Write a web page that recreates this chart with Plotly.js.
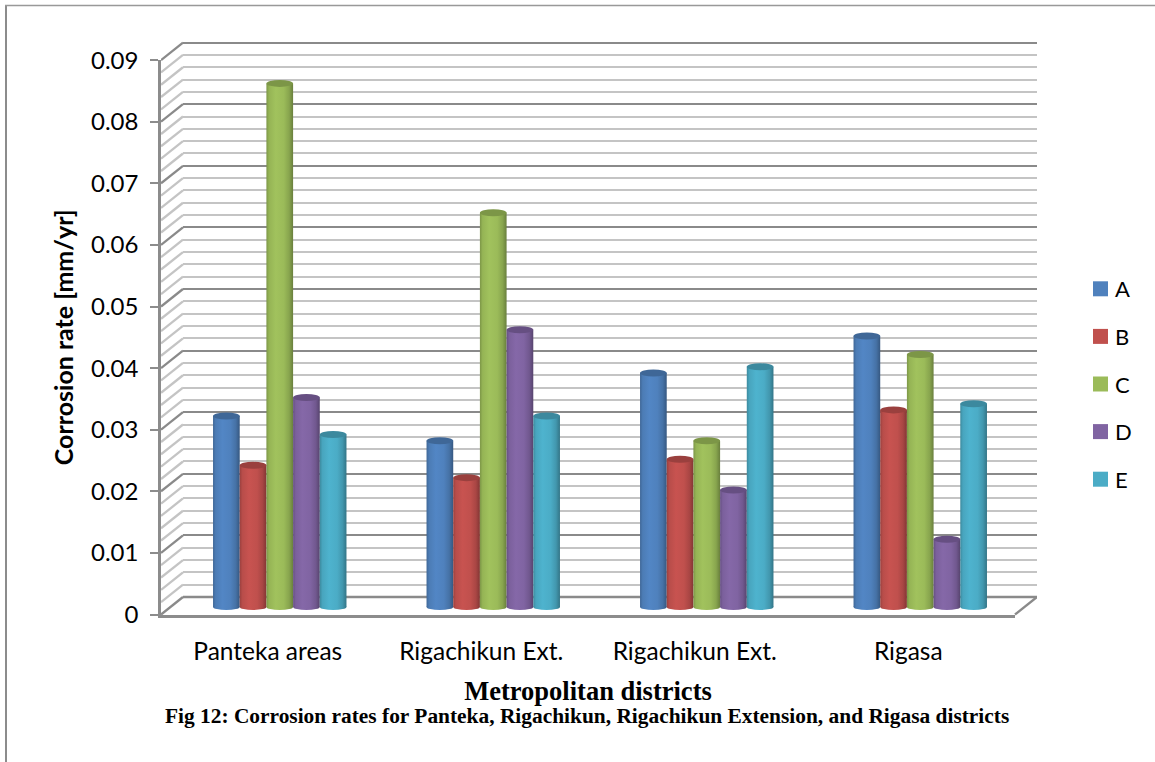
<!DOCTYPE html>
<html>
<head>
<meta charset="utf-8">
<title>Corrosion rates by metropolitan district</title>
<script src="https://cdn.plot.ly/plotly-3.0.1.min.js"></script>
<style>html,body{margin:0;padding:0;background:#fff}#chart{width:1155px;height:762px}</style>
</head>
<body>
<div id="chart"></div>
<script>
// Corrosion rate per district, one list per sample series
const districts = ['Panteka areas', 'Rigachikun Ext.', 'Rigachikun Ext.', 'Rigasa'];
const seriesNames = ['A', 'B', 'C', 'D', 'E'];
const seriesA = [0.031, 0.027, 0.038, 0.044];
const seriesB = [0.023, 0.021, 0.024, 0.032];
const seriesC = [0.085, 0.064, 0.027, 0.041];
const seriesD = [0.034, 0.045, 0.019, 0.011];
const seriesE = [0.028, 0.031, 0.039, 0.033];
const allSeries = [seriesA, seriesB, seriesC, seriesD, seriesE];

const faceColors = ['#4f81bd', '#c0504d', '#9bbb59', '#8064a2', '#4bacc6'];
const capColors = ['#3f6797', '#9a403e', '#7c9647', '#664f82', '#3c899e'];
const yTickVals = [0, 0.01, 0.02, 0.03, 0.04, 0.05, 0.06, 0.07, 0.08, 0.09];
const yTickText = ['0', '0.01', '0.02', '0.03', '0.04', '0.05', '0.06', '0.07', '0.08', '0.09'];
const minorStep = 0.002;

const W = 1155, H = 762;
const GRID_MINOR = '#c4c4c4', GRID_MAJOR = '#8a8a8a', AXIS_GREY = '#8c8c8c';
const GRID_WIDTH = 2.3;
const PX_PER_UNIT = 6160;          // vertical pixels per mm/yr
const FRONT_ZERO = 614.5, BACK_ZERO = 597, BAR_ZERO = 607;
const FRONT_L = 161, FRONT_R = 1015, DEPTH_X = 22, BAR_L = 173;
const BAR_SHARE = 0.125, GROUP_SHARE = BAR_SHARE * seriesNames.length;
const CAP_RY = 3.5, FOOT_RY = 3;

const px = x => x / W;
const py = y => 1 - y / H;
// Value range of a vertical axis whose zero sits at zeroY and which spans bottomY..topY
const yRange = (zeroY, bottomY, topY) => [(zeroY - bottomY) / PX_PER_UNIT, (zeroY - topY) / PX_PER_UNIT];

// Floor and side wall diagonals, one segment per grid line
const depthDy = (FRONT_ZERO - BACK_ZERO) / PX_PER_UNIT;
function diagonals(isMajor) {
  const xs = [], ys = [];
  for (let k = 0; k <= 45; k++) {
    if ((k % 5 === 0) !== isMajor) continue;
    const v = k * minorStep;
    xs.push(0, DEPTH_X, null);
    ys.push(v, v + depthDy, null);
  }
  if (isMajor) {
    xs.push(FRONT_R - FRONT_L, FRONT_R - FRONT_L + DEPTH_X, null);
    ys.push(0, depthDy, null);
  }
  return {x: xs, y: ys};
}

const traces = [];
// Keeps the back wall axes alive in the layout
traces.push({type: 'scatter', mode: 'lines', x: [0, 1], y: [0, 0], xaxis: 'x2', yaxis: 'y2',
  line: {color: GRID_MAJOR, width: GRID_WIDTH}, showlegend: false, hoverinfo: 'skip'});
traces.push({type: 'scatter', mode: 'lines', x: [0, 1], y: [0, 0], xaxis: 'x', yaxis: 'y',
  line: {color: AXIS_GREY, width: 0}, showlegend: false, hoverinfo: 'skip'});
[false, true].forEach(major => {
  const seg = diagonals(major);
  traces.push({type: 'scatter', mode: 'lines', x: seg.x, y: seg.y, xaxis: 'x3', yaxis: 'y3',
    line: {color: major ? GRID_MAJOR : GRID_MINOR, width: GRID_WIDTH}, showlegend: false, hoverinfo: 'skip'});
});
const districtIdx = districts.map((_, i) => i);
allSeries.forEach((vals, s) => {
  traces.push({type: 'bar', name: seriesNames[s], x: districtIdx, y: vals, xaxis: 'x4', yaxis: 'y4',
    legendgroup: seriesNames[s], marker: {color: faceColors[s], line: {width: 0}}, hovertemplate: '%{y}<extra>' + seriesNames[s] + '</extra>'});
});

// Elliptical caps and feet of the cylinders, placed from the same values as the bars
const shapes = [];
const footOwner = {};
allSeries.forEach((vals, s) => {
  vals.forEach((v, i) => {
    const left = i - GROUP_SHARE / 2 + s * BAR_SHARE;
    footOwner[shapes.length] = s;
    shapes.push({type: 'circle', layer: 'below', xref: 'x4', yref: 'y4', ysizemode: 'pixel', yanchor: 0,
      x0: left, x1: left + BAR_SHARE, y0: -FOOT_RY, y1: FOOT_RY, fillcolor: faceColors[s], line: {width: 0}});
    shapes.push({type: 'circle', layer: 'above', xref: 'x4', yref: 'y4', ysizemode: 'pixel', yanchor: v,
      x0: left, x1: left + BAR_SHARE, y0: -CAP_RY, y1: CAP_RY, fillcolor: capColors[s], line: {width: 0}});
  });
});
// Page frame along the top and left edges
shapes.push({type: 'line', xref: 'paper', yref: 'paper', x0: px(6), x1: px(6), y0: py(5), y1: 0, line: {color: '#8c8c8c', width: 2}});
shapes.push({type: 'line', xref: 'paper', yref: 'paper', x0: px(5), x1: 1, y0: py(5.5), y1: py(5.5), line: {color: '#999999', width: 1.5}});

const hiddenAxis = {visible: false, fixedrange: true, showgrid: false, zeroline: false};
const layout = {
  width: W, height: H,
  margin: {l: 0, r: 0, t: 0, b: 0, pad: 0},
  paper_bgcolor: '#ffffff', plot_bgcolor: 'rgba(0,0,0,0)',
  font: {family: 'Lato, "Open Sans", sans-serif', color: '#000000'},
  barmode: 'group', bargap: 1 - GROUP_SHARE, bargroupgap: 0,
  showlegend: true,
  legend: {x: px(1075), xanchor: 'left', y: py(268), yanchor: 'top', traceorder: 'grouped',
    tracegroupgap: 16, font: {size: 22, family: 'Lato, sans-serif'}, borderwidth: 0, bgcolor: 'rgba(0,0,0,0)'},
  // Front plane: value axis and district labels
  xaxis: {domain: [px(FRONT_L), px(FRONT_R)], range: [-0.5, 3.5], fixedrange: true, anchor: 'y',
    tickmode: 'array', tickvals: districtIdx, ticktext: districts, ticks: '', showgrid: false, zeroline: false,
    showline: true, linecolor: AXIS_GREY, linewidth: 2.5, ticklabelstandoff: 13,
    tickfont: {size: 24.5, family: 'Lato, sans-serif'},
    title: {text: '<b>Metropolitan districts</b>', standoff: 18, font: {family: '"Liberation Serif", serif', size: 26.5, color: '#000'}}},
  yaxis: {domain: [py(FRONT_ZERO), py(FRONT_ZERO - 0.09 * PX_PER_UNIT)], range: [0, 0.09], fixedrange: true, anchor: 'x',
    tickmode: 'array', tickvals: yTickVals, ticktext: yTickText, ticks: 'outside', ticklen: 8, tickwidth: 2, tickcolor: AXIS_GREY,
    showgrid: false, zeroline: false, showline: true, linecolor: AXIS_GREY, linewidth: 2.5, ticklabelstandoff: 7,
    tickfont: {size: 24, family: 'Lato, sans-serif'},
    title: {text: '<b>Corrosion rate [mm/yr]</b>', standoff: 11, font: {size: 25, family: 'Lato, sans-serif', color: '#000'}}},
  // Back wall carrying the grid
  xaxis2: Object.assign({}, hiddenAxis, {domain: [px(FRONT_L + DEPTH_X), px(FRONT_R + DEPTH_X)], range: [0, 1], anchor: 'y2'}),
  yaxis2: {domain: [py(BACK_ZERO + 3), py(BACK_ZERO - 0.09 * PX_PER_UNIT - 3)], range: yRange(BACK_ZERO, BACK_ZERO + 3, BACK_ZERO - 0.09 * PX_PER_UNIT - 3),
    fixedrange: true, anchor: 'x2',
    showticklabels: false, ticks: '', showline: false, showgrid: true, dtick: 0.01, tick0: 0, gridcolor: GRID_MAJOR, gridwidth: GRID_WIDTH,
    zeroline: true, zerolinecolor: GRID_MAJOR, zerolinewidth: GRID_WIDTH,
    minor: {dtick: minorStep, tick0: 0, showgrid: true, gridcolor: GRID_MINOR, gridwidth: GRID_WIDTH, ticks: ''}},
  // Depth diagonals between front plane and back wall
  xaxis3: Object.assign({}, hiddenAxis, {domain: [px(FRONT_L), px(FRONT_R + DEPTH_X)], range: [0, FRONT_R + DEPTH_X - FRONT_L], anchor: 'y3'}),
  yaxis3: Object.assign({}, hiddenAxis, {domain: [py(620), py(30)], range: yRange(FRONT_ZERO, 620, 30), anchor: 'x3'}),
  // Mid-depth plane holding the cylinders
  xaxis4: Object.assign({}, hiddenAxis, {domain: [px(BAR_L), px(BAR_L + FRONT_R - FRONT_L)], range: [-0.5, 3.5], anchor: 'y4'}),
  yaxis4: Object.assign({}, hiddenAxis, {domain: [py(622), py(30)], range: yRange(BAR_ZERO, 622, 30), anchor: 'x4'}),
  shapes: shapes,
  annotations: [{xref: 'paper', yref: 'paper', x: px(586.5), y: py(716), xanchor: 'center', yanchor: 'middle', showarrow: false,
    text: '<b>Fig 12: Corrosion rates for Panteka, Rigachikun, Rigachikun Extension, and Rigasa districts</b>',
    font: {family: '"Liberation Serif", serif', size: 21.4, color: '#000'}}]
};

// Horizontal shading that turns the flat bars into cylinders
const stopOffsets = [0, 0.1, 0.35, 0.65, 0.85, 1];
const stopGains = [0.8, 0.96, 1.04, 1.0, 0.88, 0.68];
function shade(hex, gain) {
  const n = parseInt(hex.slice(1), 16);
  const c = [n >> 16, (n >> 8) & 255, n & 255].map(v => Math.min(255, Math.round(v * gain)));
  return 'rgb(' + c.join(',') + ')';
}
function applyShading(gd) {
  const svg = gd.querySelector('svg.main-svg');
  const NS = 'http://www.w3.org/2000/svg';
  let defs = svg.querySelector('defs');
  faceColors.forEach((col, s) => {
    const g = document.createElementNS(NS, 'linearGradient');
    g.setAttribute('id', 'cyl' + s);
    g.setAttribute('x1', '0'); g.setAttribute('x2', '1'); g.setAttribute('y1', '0'); g.setAttribute('y2', '0');
    stopOffsets.forEach((o, j) => {
      const st = document.createElementNS(NS, 'stop');
      st.setAttribute('offset', o);
      st.setAttribute('stop-color', shade(col, stopGains[j]));
      g.appendChild(st);
    });
    defs.appendChild(g);
  });
  gd.querySelectorAll('.barlayer .trace').forEach((tr, s) => {
    tr.querySelectorAll('.point path').forEach(p => { p.style.fill = 'url(#cyl' + s + ')'; });
  });
  gd.querySelectorAll('.shapelayer path[data-index]').forEach(p => {
    const s = footOwner[p.getAttribute('data-index')];
    if (s !== undefined) p.style.fill = 'url(#cyl' + s + ')';
  });
  // Larger legend keys, nudged toward their labels
  gd.querySelectorAll('.legend .legendpoints path').forEach(p => {
    p.setAttribute('d', 'M13,7.5H-2V-7.5H13Z');
  });
}

Plotly.newPlot('chart', traces, layout, {displayModeBar: false, responsive: false})
  .then(applyShading);
</script>
</body>
</html>
